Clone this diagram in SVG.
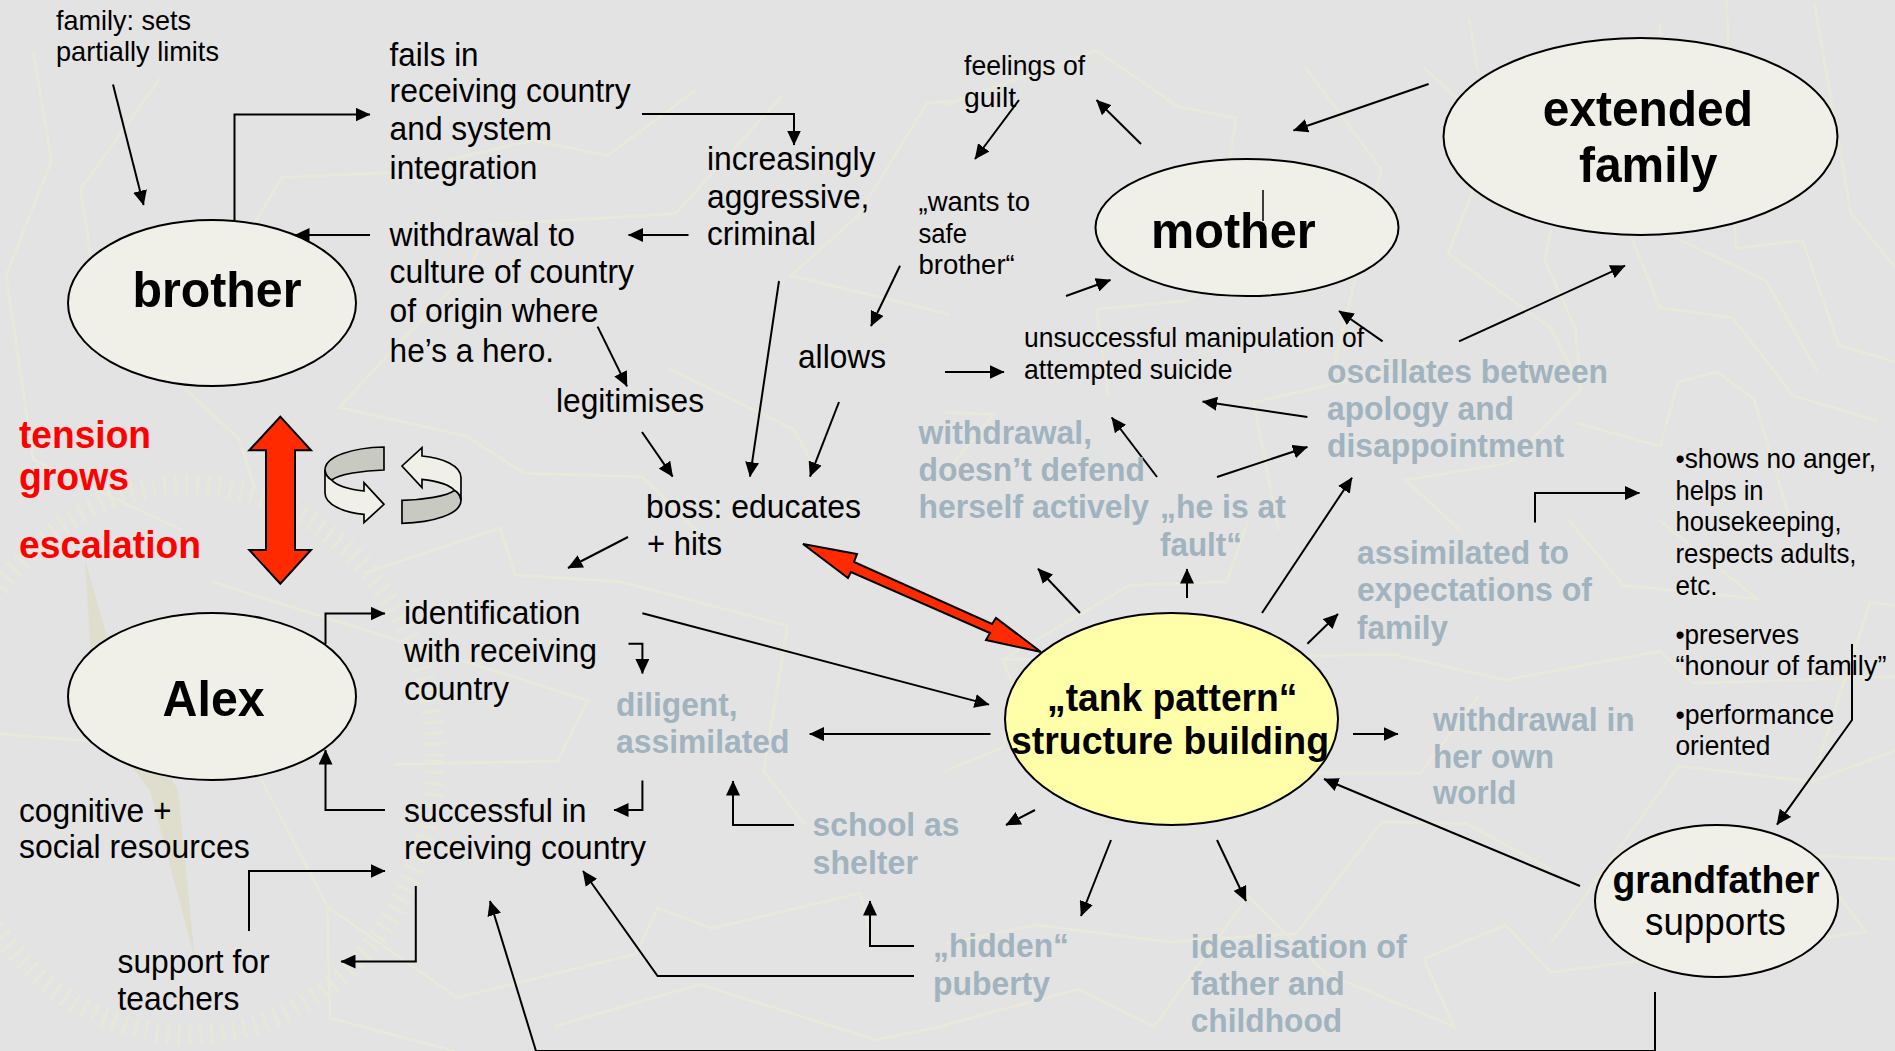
<svg xmlns="http://www.w3.org/2000/svg" width="1895" height="1051" viewBox="0 0 1895 1051">
<style>
text{font-family:"Liberation Sans",Arial,sans-serif}
.r{font-size:33.500px;fill:#000}
.s{font-size:28.500px;fill:#000}
.t{font-size:33.500px;font-weight:700;fill:#a0b3be}
.b{font-size:50px;font-weight:700;fill:#000}
.w{font-size:38px;font-weight:700;fill:#ff0000}
.tk{font-size:38px;font-weight:700;fill:#000}
.n{fill:#f0f0e8;stroke:#000;stroke-width:2}
.c{fill:none;stroke:#000;stroke-width:2;marker-end:url(#a)}
.map{fill:none;stroke:#e9e9da;stroke-width:2.5;vector-effect:non-scaling-stroke}
.red{fill:#ff2a00;stroke:#000;stroke-width:2}
.rb{stroke:#000;stroke-width:5;stroke-linejoin:miter}
</style>
<defs>
<marker id="a" markerUnits="userSpaceOnUse" markerWidth="16" markerHeight="14" refX="14.5" refY="7" orient="auto"><path d="M0,0L15,7L0,14Z" fill="#000"/></marker>
<g id="curl">
<path class="rb" fill="#c8c9c1" d="M462,138C370,140 285,165 285,207C285,220 295,232 305,237C325,220 400,208 462,207Z"/>
<path class="rb" fill="#f0f0e8" d="M285,207L285,275C285,310 340,335 402,340L402,365L462,310L402,245L402,270C360,265 320,255 305,237C295,232 285,220 285,207Z"/>
</g>
</defs>
<rect width="1895" height="1051" fill="#e3e3e3"/>
<g id="background-map">
<ellipse cx="190" cy="760" rx="245" ry="275" fill="none" stroke="#e8e8d9" stroke-width="20" stroke-dasharray="3 8"/>
<path d="M85,560L125,700L178,790L195,960L150,790L95,720Z" fill="#dfdecd"/>
<g transform="scale(.6059,.3381)">
<path class="map" d="M55,155L85,475L10,815L55,1360L300,1568"/>
<path class="map" d="M265,230L133,560L150,760"/>
<path class="map" d="M420,660L465,525L650,510L880,415L1003,460L1150,265"/>
<path class="map" d="M1290,285L1115,632L805,665L775,800L640,1050L560,1205L770,1290L865,1400L1060,1410L1150,1568"/>
<path class="map" d="M1568,300L1530,305L1415,640L1305,815L1568,930"/>
<path class="map" d="M1105,1090L1310,1270L1350,1400"/>
<path class="map" d="M300,1140L395,1300L420,1440"/>
</g>
<g transform="translate(945,0) scale(.6059,.3381)">
<path class="map" d="M0,310L250,150L385,315L480,350L470,470"/>
<path class="map" d="M865,55L880,210"/>
<path class="map" d="M595,200L720,500L640,1100"/>
<path class="map" d="M790,200L870,330L870,570L830,750L1000,970L1050,1150L930,1370L760,1420L850,1568"/>
<path class="map" d="M1000,680L990,770L1040,970L1050,1150"/>
<path class="map" d="M1130,690L1180,910L1300,940L1400,1170L1540,1245"/>
<path class="map" d="M1290,0L1305,735L1415,710L1475,1020L1568,1070"/>
<path class="map" d="M1180,70L1190,690L1355,830L1440,1100"/>
<path class="map" d="M1435,10L1495,630L1568,790"/>
<path class="map" d="M550,1568L510,1190L800,1070"/>
<path class="map" d="M270,1170L250,915L395,890L430,860"/>
<path class="map" d="M1400,1568L1335,1180L1275,1100L1210,1130L1180,1320L1040,1250"/>
<path class="map" d="M0,1220L80,1225L0,1400"/>
</g>
<g transform="translate(0,521) scale(.6059,.3381)">
<path class="map" d="M600,155L825,20L850,160L1025,180L1300,310L1260,740L1330,900"/>
<path class="map" d="M350,180L970,530L920,710L650,720"/>
<path class="map" d="M0,630L220,660"/>
<path class="map" d="M540,1140L755,1410L1050,1280L1085,1145L1175,1205L1420,1100L1440,1260"/>
<path class="map" d="M915,1495L1155,1370L1445,1535L1568,1490"/>
<path class="map" d="M430,760L540,1140L545,1470L750,1568"/>
</g>
<g transform="translate(945,521) scale(.6059,.3381)">
<path class="map" d="M0,740L95,670L120,520L95,410L305,190L465,180L500,0"/>
<path class="map" d="M95,410L740,395L925,470L1180,385L1235,480L1568,460"/>
<path class="map" d="M610,745L785,745L880,520"/>
<path class="map" d="M1000,1250L1210,725L1430,770L1568,680"/>
<path class="map" d="M1000,1030L860,895L720,890L580,1220L370,1245L150,1195L0,1250"/>
<path class="map" d="M1568,1000L1425,990L1520,1215L1000,1335L925,1195L790,1295L840,1495L630,1340L500,1110L345,1495L220,1385L0,1490"/>
<path class="map" d="M1180,0L1340,230L1120,190L1030,0"/>
<path class="map" d="M1568,250L1527,240L1430,770"/>
</g>
</g>
<g id="diagram" transform="translate(0,1)">
<g id="connectors">
<path class="c" d="M113,83.5L143.6,204"/>
<path class="c" d="M234.5,219V113.6H370"/>
<path class="c" d="M642,113H794V144"/>
<path class="c" d="M688.5,234H628.5"/>
<path class="c" d="M370,234H295"/>
<path class="c" d="M597.6,325.6L627,385.4"/>
<path class="c" d="M642,431L672.7,475.6"/>
<path class="c" d="M779,280L750,475.6"/>
<path class="c" d="M839,401L810,475.6"/>
<path class="c" d="M900,264.7L871,325"/>
<path class="c" d="M945,371H1004"/>
<path class="c" d="M1019,99L975,158"/>
<path class="c" d="M1141,143L1096.5,99"/>
<path class="c" d="M1428.6,83L1293.5,129.5"/>
<path class="c" d="M1066,295L1110.5,279"/>
<path class="c" d="M1382.6,340.4L1339,310"/>
<path class="c" d="M1459,340.4L1625,264.7"/>
<path class="c" d="M1307.4,416L1202.6,400.6"/>
<path class="c" d="M1217,476L1307.4,446"/>
<path class="c" d="M1157,476L1111.7,416.5"/>
<path class="c" d="M1262,612L1352,476.7"/>
<path class="c" d="M1535,521.6V492H1639.5"/>
<path class="c" d="M1080,612L1038,567.7"/>
<path class="c" d="M1187,597V568"/>
<path class="c" d="M1307.4,642.7L1338,613"/>
<path class="c" d="M1353,733H1398"/>
<path class="c" d="M990.5,733H809.7"/>
<path class="c" d="M642.4,612.3L989,703.6"/>
<path class="c" d="M1580,885L1324,778"/>
<path class="c" d="M1655,991V1050H536L490,900"/>
<path class="c" d="M914,975H657.6L583,870"/>
<path class="c" d="M914,945H870V900"/>
<path class="c" d="M794,824H733V780"/>
<path class="c" d="M1035,809L1006,824"/>
<path class="c" d="M1111,839L1081,915"/>
<path class="c" d="M1217,839L1246,900"/>
<path class="c" d="M1852,643V719L1777,823.6"/>
<path class="c" d="M628,536L568,567"/>
<path class="c" d="M325.5,643V612.6H385"/>
<path class="c" d="M385,809H325.5V749"/>
<path class="c" d="M628.5,642.7H642.4V672.5"/>
<path class="c" d="M642.4,779.6V809H614"/>
<path class="c" d="M249,930V870H385"/>
<path class="c" d="M415.8,885V960.5H341"/>
</g>
<g id="red-arrow-tension"><path class="red" d="M280.3,415.7L311,449.3H295V549H311L280.3,582.7L249.3,549H266V449.3H249.3Z"/></g>
<g id="red-arrow-boss-tank"><path class="red" d="M803,543L857,553L854,561L992,623L996,617L1041,651L986,639L990,632L851,571L848,577Z"/></g>
<g id="cycle-arrows" transform="translate(230,400) scale(.3333)">
<use href="#curl"/>
<use href="#curl" transform="rotate(180 489 252.5)"/>
</g>
<g id="brother"><ellipse class="n" cx="212" cy="302" rx="144" ry="83"/><text class="b" x="132.5" y="306" textLength="169" lengthAdjust="spacingAndGlyphs">brother</text></g>
<g id="alex"><ellipse class="n" cx="212" cy="695.500" rx="144" ry="83.500"/><text class="b" x="162.600" y="715.400" textLength="102" lengthAdjust="spacingAndGlyphs">Alex</text></g>
<g id="mother"><ellipse class="n" cx="1247" cy="226.500" rx="151.500" ry="68.500"/><text class="b" x="1151" y="246.800" textLength="164.700" lengthAdjust="spacingAndGlyphs">mother</text><path d="M1263,189V220" stroke="#000" stroke-width="1.500"/></g>
<g id="extended-family"><ellipse class="n" cx="1640.500" cy="135.500" rx="197" ry="98.500"/><text class="b" x="1542.800" y="125" textLength="210.200" lengthAdjust="spacingAndGlyphs">extended</text><text class="b" x="1579" y="181" textLength="138.500" lengthAdjust="spacingAndGlyphs">family</text></g>
<g id="tank-pattern"><ellipse cx="1171.500" cy="718" rx="166.500" ry="106" fill="#ffffaa" stroke="#000" stroke-width="2"/><text class="tk" x="1047" y="710" textLength="250.500" lengthAdjust="spacingAndGlyphs">„tank pattern“</text><text class="tk" x="1011" y="752.600" textLength="318" lengthAdjust="spacingAndGlyphs">structure building</text></g>
<g id="grandfather"><ellipse class="n" cx="1716.500" cy="900" rx="121.500" ry="76"/><text class="tk" x="1612.500" y="892" textLength="207" lengthAdjust="spacingAndGlyphs">grandfather</text><text class="tk" style="font-weight:400" x="1645" y="934" textLength="141" lengthAdjust="spacingAndGlyphs">supports</text></g>
<g id="family-limits"><text class="s" x="56" y="28.700" textLength="135" lengthAdjust="spacingAndGlyphs">family: sets</text><text class="s" x="56" y="60" textLength="163" lengthAdjust="spacingAndGlyphs">partially limits</text></g>
<g id="fails"><text class="r" x="389.600" y="65" textLength="89" lengthAdjust="spacingAndGlyphs">fails in</text><text class="r" x="389.600" y="101.400" textLength="241" lengthAdjust="spacingAndGlyphs">receiving country</text><text class="r" x="389.600" y="138.600" textLength="162.300" lengthAdjust="spacingAndGlyphs">and system</text><text class="r" x="389.600" y="178" textLength="147.800" lengthAdjust="spacingAndGlyphs">integration</text></g>
<g id="aggressive"><text class="r" x="707" y="169" textLength="168.500" lengthAdjust="spacingAndGlyphs">increasingly</text><text class="r" x="707" y="207" textLength="162.400" lengthAdjust="spacingAndGlyphs">aggressive,</text><text class="r" x="707" y="244" textLength="109" lengthAdjust="spacingAndGlyphs">criminal</text></g>
<g id="withdrawal-culture"><text class="r" x="389.600" y="245" textLength="185.300" lengthAdjust="spacingAndGlyphs">withdrawal to</text><text class="r" x="389.600" y="282" textLength="244.400" lengthAdjust="spacingAndGlyphs">culture of country</text><text class="r" x="389.600" y="320.500" textLength="209" lengthAdjust="spacingAndGlyphs">of origin where</text><text class="r" x="389.600" y="360.700" textLength="164.400" lengthAdjust="spacingAndGlyphs">he’s a hero.</text></g>
<g id="legitimises"><text class="r" x="556" y="410.700" textLength="148" lengthAdjust="spacingAndGlyphs">legitimises</text></g>
<g id="allows"><text class="r" x="798" y="366.800" textLength="88" lengthAdjust="spacingAndGlyphs">allows</text></g>
<g id="boss"><text class="r" x="646" y="517" textLength="215" lengthAdjust="spacingAndGlyphs">boss: educates</text><text class="r" x="647" y="554" textLength="75" lengthAdjust="spacingAndGlyphs">+ hits</text></g>
<g id="tension"><text class="w" x="19" y="447" textLength="132" lengthAdjust="spacingAndGlyphs">tension</text><text class="w" x="19" y="489" textLength="110" lengthAdjust="spacingAndGlyphs">grows</text><text class="w" x="19" y="556.500" textLength="182" lengthAdjust="spacingAndGlyphs">escalation</text></g>
<g id="guilt"><text class="s" x="964" y="73.700" textLength="121.200" lengthAdjust="spacingAndGlyphs">feelings of</text><text class="s" x="964" y="105.500" textLength="52.100" lengthAdjust="spacingAndGlyphs">guilt</text></g>
<g id="wants"><text class="s" x="918.500" y="209.600" textLength="111.500" lengthAdjust="spacingAndGlyphs">„wants to</text><text class="s" x="918.500" y="241.700" textLength="48.500" lengthAdjust="spacingAndGlyphs">safe</text><text class="s" x="918.500" y="273" textLength="96.200" lengthAdjust="spacingAndGlyphs">brother“</text></g>
<g id="manipulation"><text class="s" x="1024" y="345.500" textLength="340" lengthAdjust="spacingAndGlyphs">unsuccessful manipulation of</text><text class="s" x="1024" y="377.600" textLength="208.500" lengthAdjust="spacingAndGlyphs">attempted suicide</text></g>
<g id="oscillates"><text class="t" x="1327" y="382" textLength="281" lengthAdjust="spacingAndGlyphs">oscillates between</text><text class="t" x="1327" y="419" textLength="187" lengthAdjust="spacingAndGlyphs">apology and</text><text class="t" x="1327" y="456.400" textLength="237" lengthAdjust="spacingAndGlyphs">disappointment</text></g>
<g id="withdrawal-defend"><text class="t" x="918.500" y="442.900" textLength="173.500" lengthAdjust="spacingAndGlyphs">withdrawal,</text><text class="t" x="918.500" y="480" textLength="226.500" lengthAdjust="spacingAndGlyphs">doesn’t defend</text><text class="t" x="918.500" y="517" textLength="230.500" lengthAdjust="spacingAndGlyphs">herself actively</text></g>
<g id="he-at-fault"><text class="t" x="1160" y="517" textLength="126" lengthAdjust="spacingAndGlyphs">„he is at</text><text class="t" x="1160" y="555" textLength="82" lengthAdjust="spacingAndGlyphs">fault“</text></g>
<g id="shows"><text class="s" x="1675.500" y="466.500" textLength="200.500" lengthAdjust="spacingAndGlyphs">•shows no anger,</text><text class="s" x="1675.500" y="498.600" textLength="88" lengthAdjust="spacingAndGlyphs">helps in</text><text class="s" x="1675.500" y="530" textLength="166" lengthAdjust="spacingAndGlyphs">housekeeping,</text><text class="s" x="1675.500" y="562" textLength="181" lengthAdjust="spacingAndGlyphs">respects adults,</text><text class="s" x="1675.500" y="594" textLength="42" lengthAdjust="spacingAndGlyphs">etc.</text></g>
<g id="preserves"><text class="s" x="1675.500" y="642.700" textLength="123.500" lengthAdjust="spacingAndGlyphs">•preserves</text><text class="s" x="1675.500" y="674" textLength="211" lengthAdjust="spacingAndGlyphs">“honour of family”</text></g>
<g id="performance"><text class="s" x="1675.500" y="723" textLength="158.700" lengthAdjust="spacingAndGlyphs">•performance</text><text class="s" x="1675.500" y="754" textLength="95" lengthAdjust="spacingAndGlyphs">oriented</text></g>
<g id="assimilated-family"><text class="t" x="1357" y="563" textLength="212" lengthAdjust="spacingAndGlyphs">assimilated to</text><text class="t" x="1357" y="600.400" textLength="235" lengthAdjust="spacingAndGlyphs">expectations of</text><text class="t" x="1357" y="637.600" textLength="91" lengthAdjust="spacingAndGlyphs">family</text></g>
<g id="withdrawal-world"><text class="t" x="1433" y="729.600" textLength="201.700" lengthAdjust="spacingAndGlyphs">withdrawal in</text><text class="t" x="1433" y="766.800" textLength="121" lengthAdjust="spacingAndGlyphs">her own</text><text class="t" x="1433" y="803" textLength="83.500" lengthAdjust="spacingAndGlyphs">world</text></g>
<g id="hidden-puberty"><text class="t" x="933" y="956.400" textLength="136" lengthAdjust="spacingAndGlyphs">„hidden“</text><text class="t" x="933" y="993.600" textLength="117" lengthAdjust="spacingAndGlyphs">puberty</text></g>
<g id="idealisation"><text class="t" x="1190.700" y="957" textLength="216" lengthAdjust="spacingAndGlyphs">idealisation of</text><text class="t" x="1190.700" y="993.600" textLength="154" lengthAdjust="spacingAndGlyphs">father and</text><text class="t" x="1190.700" y="1030.800" textLength="151.500" lengthAdjust="spacingAndGlyphs">childhood</text></g>
<g id="identification"><text class="r" x="404" y="623.400" textLength="176.500" lengthAdjust="spacingAndGlyphs">identification</text><text class="r" x="404" y="660.600" textLength="193" lengthAdjust="spacingAndGlyphs">with receiving</text><text class="r" x="404" y="698.500" textLength="105" lengthAdjust="spacingAndGlyphs">country</text></g>
<g id="diligent"><text class="t" x="616" y="715.400" textLength="121.600" lengthAdjust="spacingAndGlyphs">diligent,</text><text class="t" x="616" y="752" textLength="173.500" lengthAdjust="spacingAndGlyphs">assimilated</text></g>
<g id="successful"><text class="r" x="404" y="820.900" textLength="182.500" lengthAdjust="spacingAndGlyphs">successful in</text><text class="r" x="404" y="858" textLength="242" lengthAdjust="spacingAndGlyphs">receiving country</text></g>
<g id="school"><text class="t" x="812.500" y="835.400" textLength="147" lengthAdjust="spacingAndGlyphs">school as</text><text class="t" x="812.500" y="872.600" textLength="105.500" lengthAdjust="spacingAndGlyphs">shelter</text></g>
<g id="resources"><text class="r" x="19" y="821" textLength="152.500" lengthAdjust="spacingAndGlyphs">cognitive +</text><text class="r" x="19" y="857.400" textLength="230.600" lengthAdjust="spacingAndGlyphs">social resources</text></g>
<g id="support"><text class="r" x="117.500" y="971.600" textLength="152" lengthAdjust="spacingAndGlyphs">support for</text><text class="r" x="117.500" y="1008.500" textLength="121.800" lengthAdjust="spacingAndGlyphs">teachers</text></g>
</g>
</svg>
